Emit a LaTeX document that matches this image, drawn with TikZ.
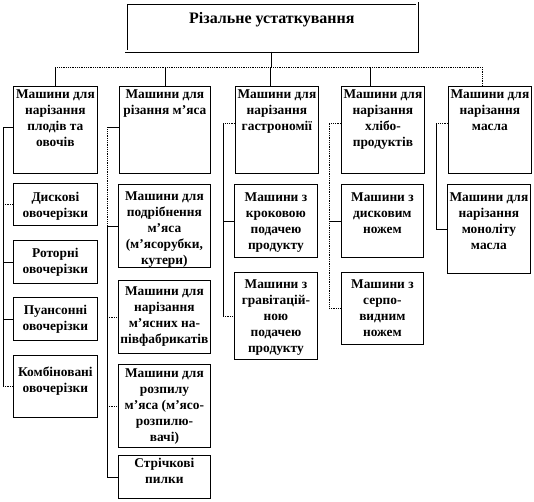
\documentclass[tikz,border=0pt]{standalone}
\usepackage{fontspec}
\setmainfont{Liberation Serif}
\tikzset{
  box/.style={draw, line width=0.8pt, inner sep=0pt, fill=white},
  txt/.style={inner sep=0pt, align=center, font=\bfseries\fontsize{13.4}{16}\selectfont},
  ttl/.style={inner sep=0pt, align=center, font=\bfseries\fontsize{16}{19}\selectfont},
  ln/.style={line width=0.8pt},
  dots/.style={line width=0.8pt, densely dotted}
}
\newcommand\bx[7]{%
  \node[box, minimum width=#4pt, minimum height=#5pt, anchor=north west] (#1) at (#2,#3) {};
  \node[txt, anchor=north] (#1-t) at ([yshift=-#6pt]#1.north) {#7};
}
\begin{document}
\begin{tikzpicture}[x=1pt,y=-1pt]
\useasboundingbox (0,0) rectangle (534,501);
% title
\node[draw, line width=0.7pt, double=white, double distance=2pt, minimum width=291pt, minimum height=48pt, anchor=north west, inner sep=0pt] (title) at (126,3) {};
\node[ttl, anchor=north] (title-t) at ([yshift=-9pt]title.north) {Різальне устаткування};
% level 1
\bx{c1}{13}{86}{84}{87}{4}{Машини для\\нарізання\\плодів та\\овочів}
\bx{c2}{119}{86}{91}{87}{4}{Машини для\\різання м’яса}
\bx{c3}{235}{86}{83}{87}{4}{Машини для\\нарізання\\гастрономії}
\bx{c4}{341}{86}{83}{87}{4}{Машини для\\нарізання\\хлібо-\\продуктів}
\bx{c5}{448}{86}{83}{87}{4}{Машини для\\нарізання\\масла}
% column 1
\bx{d1}{13}{183}{84}{42}{9}{Дискові\\овочерізки}
\bx{d2}{13}{240}{84}{43}{8}{Роторні\\овочерізки}
\bx{d3}{13}{297}{84}{43}{8}{Пуансонні\\овочерізки}
\bx{d4}{13}{355}{84}{62}{12}{Комбіновані\\овочерізки}
% column 2
\bx{e1}{118}{184}{92}{83}{8}{Машини для\\подрібнення\\м’яса\\(м’ясорубки,\\кутери)}
\bx{e2}{118}{280}{92}{73}{7}{Машини для\\нарізання\\м’ясних на-\\півфабрикатів}
\bx{e3}{118}{364}{92}{83}{5}{Машини для\\розпилу\\м’яса (м’ясо-\\розпилю-\\вачі)}
\bx{e4}{118}{455}{92}{43}{3}{Стрічкові\\пилки}
% column 3
\bx{f1}{234}{184}{83}{73}{9}{Машини з\\кроковою\\подачею\\продукту}
\bx{f2}{234}{272}{83}{87}{8}{Машини з\\гравітацій-\\ною\\подачею\\продукту}
% column 4
\bx{g1}{341}{184}{82}{73}{9}{Машини з\\дисковим\\ножем}
\bx{g2}{341}{272}{82}{72}{8}{Машини з\\серпо-\\видним\\ножем}
% column 5
\bx{h1}{447}{184}{83}{89}{9}{Машини для\\нарізання\\моноліту\\масла}
% top bar
\coordinate (bar) at (0,67);
\coordinate (b3) at (270,67);
\coordinate (b4) at (370,67);
\coordinate (b5) at (482,67);
\draw[ln] (title.south) -- (title.south |- bar);
\draw[dots] (c1.north |- bar) -- (b5);
\draw[ln] (c1.north |- bar) -- (c1.north);
\draw[ln] (c2.north |- bar) -- (c2.north);
\draw[ln] (b3) -- (b3 |- c3.north);
\draw[ln] (b4) -- (b4 |- c4.north);
\draw[dots] (b5) -- (b5 |- c5.north);
% column 1 connectors
\coordinate (v1) at (3,0);
\coordinate (k1) at ([yshift=2.5pt]c1.west);
\draw[ln] (k1) -- (v1 |- k1) -- (v1 |- d4.west);
\draw[dots] (v1 |- d1.west) -- (d1.west);
\draw[ln] (v1 |- d2.west) -- (d2.west);
\draw[ln] (v1 |- d3.west) -- (d3.west);
\draw[dots] (v1 |- d4.west) -- (d4.west);
% column 2 connectors
\coordinate (v2) at (107,0);
\coordinate (k2) at ([yshift=2.5pt]c2.west);
\draw[ln] (k2) -- (v2 |- k2);
\draw[dots] (v2 |- k2) -- (v2 |- e1.west);
\draw[ln] (v2 |- e1.west) -- (v2 |- e4.west);
\draw[ln] (v2 |- e1.west) -- (e1.west);
\draw[dots] (v2 |- e2.west) -- (e2.west);
\draw[dots] (v2 |- e3.west) -- (e3.west);
\draw[ln] (v2 |- e4.west) -- (e4.west);
% column 3 connectors
\coordinate (v3) at (223,0);
\coordinate (k3) at ([yshift=6.5pt]c3.west);
\draw[dots] (k3) -- (v3 |- k3);
\draw[ln] (v3 |- k3) -- (v3 |- f2.west);
\draw[ln] (v3 |- f1.west) -- (f1.west);
\draw[dots] (v3 |- f2.west) -- (f2.west);
% column 4 connectors
\coordinate (v4) at (329,0);
\coordinate (k4) at ([yshift=6.5pt]c4.west);
\draw[dots] (k4) -- (v4 |- k4) -- (v4 |- g2.west);
\draw[ln] (v4 |- g1.west) -- (g1.west);
\draw[dots] (v4 |- g2.west) -- (g2.west);
% column 5 connectors
\coordinate (v5) at (436,0);
\coordinate (k5) at ([yshift=6.5pt]c5.west);
\draw[dots] (k5) -- (v5 |- k5);
\draw[ln] (v5 |- k5) -- (v5 |- h1.west) -- (h1.west);
\end{tikzpicture}
\end{document}
